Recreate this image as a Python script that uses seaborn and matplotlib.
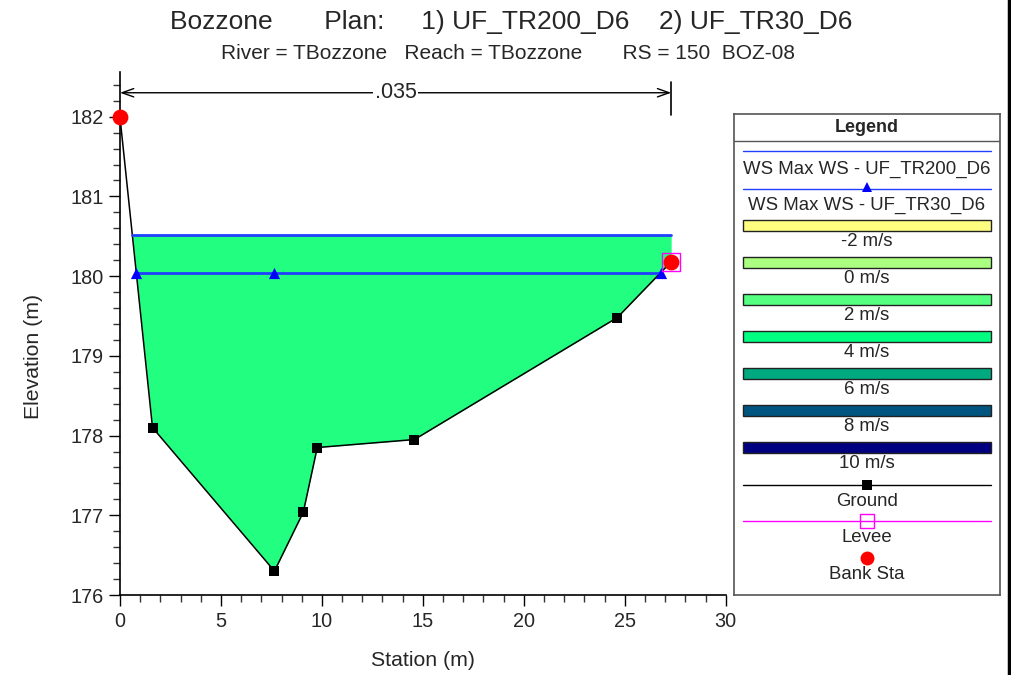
import numpy as np
import pandas as pd
import matplotlib
matplotlib.use("Agg")
import matplotlib.pyplot as plt
from matplotlib.lines import Line2D
from matplotlib.patches import Rectangle
import seaborn as sns

# ---------------- data ----------------
ground_station = [0.0, 1.61, 7.65, 9.08, 9.77, 14.58, 24.63, 27.3]
ground_elev = [181.99, 178.10, 176.30, 177.04, 177.85, 177.95, 179.48, 180.18]
bank_station = [0.0, 27.3]
bank_elev = [181.99, 180.18]
levee_station = [27.3]
levee_elev = [180.18]
ws200_station = [0.6, 27.3]
ws200_elev = [180.52, 180.52]
ws30_station = [0.8, 7.65, 26.8]
ws30_elev = [180.04, 180.04, 180.04]
n_value_label = ".035"
n_extent = [0.0, 27.3]

legend_speeds = ["-2 m/s", "0 m/s", "2 m/s", "4 m/s", "6 m/s", "8 m/s", "10 m/s"]
legend_speed_colors = ["#FFFF80", "#AAFF80", "#55FF80", "#00FF80", "#00AA80", "#005580", "#000080"]
fill_color = "#22FF80"
ws_color = "#2040FF"

title = "Bozzone       Plan:     1) UF_TR200_D6    2) UF_TR30_D6"
subtitle = "River = TBozzone   Reach = TBozzone       RS = 150  BOZ-08"

# ---------------- style ----------------
sns.set_theme(style="ticks")
plt.rcParams["font.family"] = ["Liberation Sans", "DejaVu Sans"]

fig = plt.figure(figsize=(10.11, 6.75), dpi=100)
fig.patch.set_facecolor("white")
ax = fig.add_axes([0.1187, 0.1185, 0.5991, 0.7748])
ax.set_facecolor("white")

# fill between ground and WS 200
fill_x = [ws200_station[0]] + [s for s in ground_station if ws200_station[0] < s < ws200_station[1]] + [ws200_station[1]]
fill_ground = np.interp(fill_x, ground_station, ground_elev)
ax.fill_between(fill_x, fill_ground, ws200_elev[0], color=fill_color, lw=0, zorder=1)

gdf = pd.DataFrame({"Station": ground_station, "Elevation": ground_elev})
sns.lineplot(data=gdf, x="Station", y="Elevation", color="black", lw=1.1, ax=ax, zorder=3, sort=False)
sns.scatterplot(data=gdf, x="Station", y="Elevation", marker="s", s=55, color="black",
                edgecolor="black", linewidth=0, ax=ax, zorder=4)

sns.lineplot(x=ws200_station, y=ws200_elev, color=ws_color, lw=2, ax=ax, zorder=3)
sns.lineplot(x=ws30_station, y=ws30_elev, color=ws_color, lw=2, ax=ax, zorder=3)
sns.scatterplot(x=ws30_station, y=ws30_elev, marker="^", s=65, color="blue",
                edgecolor="blue", linewidth=0, ax=ax, zorder=5)

sns.scatterplot(x=levee_station, y=levee_elev, marker="s", s=160, facecolor="none",
                edgecolor="magenta", linewidth=1, ax=ax, zorder=5)
sns.scatterplot(x=bank_station, y=bank_elev, marker="o", s=130, color="red",
                edgecolor="red", linewidth=0, ax=ax, zorder=6, clip_on=False)

# Manning's n dimension arrow
arrow_y = 182.30
ax.annotate("", xy=(n_extent[0], arrow_y), xytext=(n_extent[1], arrow_y),
            arrowprops=dict(arrowstyle="<->,head_length=0.7,head_width=0.25", color="black", lw=1,
                            shrinkA=0, shrinkB=0), zorder=3)
ax.plot([n_extent[1], n_extent[1]], [182.02, 182.44], color="black", lw=1.2, clip_on=False)
ax.text(np.mean(n_extent), arrow_y, n_value_label, ha="center", va="center", fontsize=15.5,
        bbox=dict(facecolor="white", edgecolor="none", pad=1), zorder=4)

ax.set_xlim(0, 30)
ax.set_ylim(176, 182.56)
ax.set_xticks([0, 5, 10, 15, 20, 25, 30])
ax.set_yticks([176, 177, 178, 179, 180, 181, 182])
ax.set_xticks(np.arange(0, 31, 1), minor=True)
ax.set_yticks(np.arange(176, 182.5, 0.2), minor=True)
ax.tick_params(axis="both", which="major", length=8, width=1, direction="out", labelsize=14.3, color="black")
ax.tick_params(axis="both", which="minor", length=5, width=1, direction="out", color="#333333")
ax.tick_params(axis="x", pad=4)
for sp in ["top", "right"]:
    ax.spines[sp].set_visible(False)
for sp in ["left", "bottom"]:
    ax.spines[sp].set_color("black")
    ax.spines[sp].set_linewidth(1.2)
ax.set_xlabel("Station (m)", fontsize=15.3)
ax.set_ylabel("Elevation (m)", fontsize=15.3)
ax.xaxis.set_label_coords(0.5, -0.108)
ax.yaxis.set_label_coords(-0.127, 0.457)

fig.text(0.5055, 0.967, title, ha="center", va="center", fontsize=19)
fig.text(0.5025, 0.921, subtitle, ha="center", va="center", fontsize=15)

# ---------------- legend panel ----------------
lax = fig.add_axes([0.726, 0.1185, 0.2631, 0.7126])
lax.set_xlim(0, 266)
lax.set_ylim(481, 0)
lax.set_xticks([])
lax.set_yticks([])
for sp in lax.spines.values():
    sp.set_color("#555555")
    sp.set_linewidth(1.2)
lax.axhline(27.4, color="#555555", lw=1)
lax.text(133, 13, "Legend", ha="center", va="center", fontsize=13, fontweight="bold")

x0, x1, xm = 9, 257, 133
fs = 13.4
lax.plot([x0, x1], [37.4, 37.4], color=ws_color, lw=1)
lax.text(xm, 55.7, "WS Max WS - UF_TR200_D6", ha="center", va="center", fontsize=fs)
lax.plot([x0, x1], [74.7, 74.7], color=ws_color, lw=1)
lax.plot([xm], [72.5], marker="^", color="blue", ms=7, mew=0)
lax.text(xm, 91.4, "WS Max WS - UF_TR30_D6", ha="center", va="center", fontsize=fs)

bar_y0 = 111.5
step = 36.95
for i, (lab, col) in enumerate(zip(legend_speeds, legend_speed_colors)):
    cy = bar_y0 + i * step
    lax.add_patch(Rectangle((x0, cy - 5.3), x1 - x0, 10.6, facecolor=col, edgecolor="#222222", lw=1))
    lax.text(xm, cy + 16.3, lab, ha="center", va="center", fontsize=fs)

lax.plot([x0, x1], [371, 371], color="black", lw=1)
lax.plot([xm], [371], marker="s", color="black", ms=7, mew=0)
lax.text(xm, 387, "Ground", ha="center", va="center", fontsize=fs)
lax.plot([x0, x1], [407, 407], color="magenta", lw=1)
lax.plot([xm], [407], marker="s", mfc="none", mec="magenta", ms=10, mew=1)
lax.text(xm, 423.7, "Levee", ha="center", va="center", fontsize=fs)
lax.plot([xm], [444.3], marker="o", color="red", ms=10, mew=0)
lax.text(xm, 460.3, "Bank Sta", ha="center", va="center", fontsize=fs)

# figure right border
fig.add_artist(Line2D([0.9985, 0.9985], [0, 1], transform=fig.transFigure, color="black", lw=2.5))

fig.savefig("out.png", dpi=100, facecolor="white")
